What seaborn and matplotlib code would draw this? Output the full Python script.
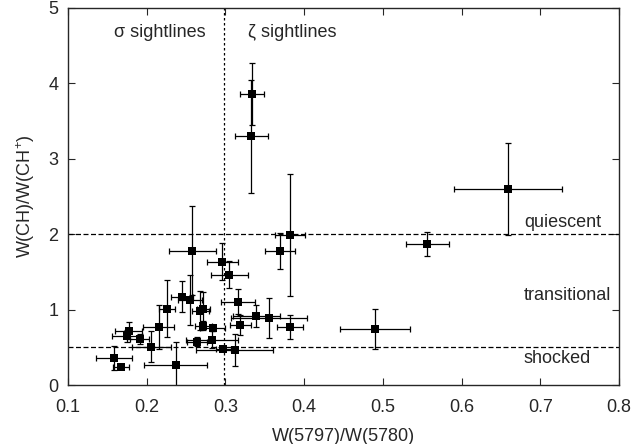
import numpy as np
import pandas as pd
import matplotlib
matplotlib.use("Agg")
import matplotlib.pyplot as plt
import seaborn as sns

# W(5797)/W(5780) vs W(CH)/W(CH+) with errors
ratio_dib = [0.3336, 0.3328, 0.382, 0.659, 0.5566, 0.258, 0.296, 0.305, 0.3696,
             0.245, 0.255, 0.226, 0.268, 0.272, 0.272, 0.284, 0.215, 0.177,
             0.1755, 0.191, 0.206, 0.158, 0.167, 0.2367, 0.264, 0.283, 0.2975,
             0.312, 0.316, 0.319, 0.339, 0.3557, 0.382, 0.49]
ratio_ch = [3.86, 3.30, 1.99, 2.60, 1.87, 1.78, 1.635, 1.46, 1.78,
            1.17, 1.13, 1.01, 0.985, 1.01, 0.787, 0.76, 0.77, 0.72,
            0.654, 0.61, 0.51, 0.36, 0.24, 0.27, 0.575, 0.60, 0.477,
            0.464, 1.105, 0.80, 0.92, 0.89, 0.775, 0.743]
err_dib = [0.015, 0.021, 0.0196, 0.069, 0.027, 0.0295, 0.02, 0.0235, 0.019,
           0.0143, 0.0154, 0.0105, 0.011, 0.008, 0.011, 0.016, 0.0196, 0.017,
           0.019, 0.0116, 0.025, 0.023, 0.01, 0.04, 0.0125, 0.033, 0.01,
           0.049, 0.0215, 0.013, 0.03, 0.048, 0.0167, 0.0445]
err_ch = [0.41, 0.75, 0.81, 0.61, 0.155, 0.59, 0.245, 0.18, 0.24,
          0.205, 0.33, 0.38, 0.26, 0.22, 0.06, 0.04, 0.29, 0.11,
          0.08, 0.07, 0.21, 0.16, 0.03, 0.3, 0.06, 0.11, 0.03,
          0.21, 0.165, 0.135, 0.145, 0.265, 0.16, 0.27]

df = pd.DataFrame({"dib": ratio_dib, "ch": ratio_ch,
                   "xerr": err_dib, "yerr": err_ch})

sns.set_style("ticks")
plt.rcParams["font.family"] = ["Liberation Sans", "DejaVu Sans"]
plt.rcParams["mathtext.default"] = "regular"
plt.rcParams["xtick.direction"] = "in"
plt.rcParams["ytick.direction"] = "in"

fig = plt.figure(figsize=(6.36, 4.44), dpi=100)
ax = fig.add_axes([68 / 636, 1 - 385 / 444, 551 / 636, 377 / 444])

ax.errorbar(df["dib"], df["ch"], xerr=df["xerr"], yerr=df["yerr"],
            fmt="none", ecolor="black", elinewidth=0.9, capsize=2.3,
            capthick=0.9, zorder=2)
sns.scatterplot(data=df, x="dib", y="ch", marker="s", color="black",
                s=30, edgecolor="black", linewidth=0, ax=ax, zorder=3)

ax.axhline(2.0, color="black", ls=(0, (4, 2)), lw=0.9, zorder=1)
ax.axhline(0.5, color="black", ls=(0, (4, 2)), lw=0.9, zorder=1)
ax.axvline(0.298, color="black", ls=(0, (2, 2)), lw=0.9, zorder=1)

fs = 13
ax.text(0.679, 2.15, "quiescent", fontsize=fs, va="center")
ax.text(0.679, 1.19, "transitional", fontsize=fs, va="center")
ax.text(0.679, 0.345, "shocked", fontsize=fs, va="center")
ax.text(0.159, 4.68, "σ sightlines", fontsize=fs, va="center")
ax.text(0.329, 4.68, "ζ sightlines", fontsize=fs, va="center")

ax.set_xlim(0.1, 0.8)
ax.set_ylim(0, 5)
ax.set_xticks(np.arange(0.1, 0.81, 0.1))
ax.set_xticklabels(["0.1", "0.2", "0.3", "0.4", "0.5", "0.6", "0.7", "0.8"])
ax.set_yticks([0, 1, 2, 3, 4, 5])
ax.tick_params(top=True, right=True, labelsize=fs, length=5, width=0.8)
ax.tick_params(axis="x", pad=10)
ax.tick_params(axis="y", pad=7)
ax.set_xlabel("W(5797)/W(5780)", fontsize=fs, labelpad=9)
ax.set_ylabel("W(CH)/W(CH$^{+}$)", fontsize=fs, labelpad=8)
for sp in ax.spines.values():
    sp.set_linewidth(1.0)

fig.savefig("out.png", dpi=100)
